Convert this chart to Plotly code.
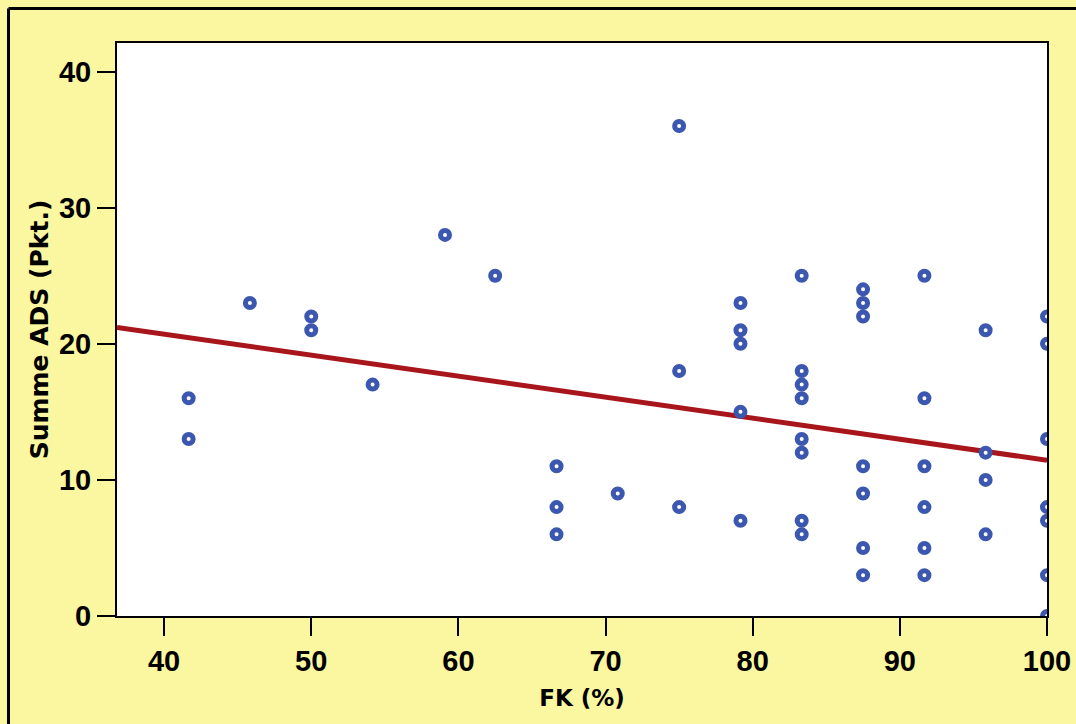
import numpy as np
import plotly.graph_objects as go

fk = [41.67, 41.67, 45.83, 50, 50, 54.17, 59.09, 62.5,
      66.67, 66.67, 66.67, 70.83, 75, 75, 75,
      79.17, 79.17, 79.17, 79.17, 79.17,
      83.33, 83.33, 83.33, 83.33, 83.33, 83.33, 83.33, 83.33,
      87.5, 87.5, 87.5, 87.5, 87.5, 87.5, 87.5,
      91.67, 91.67, 91.67, 91.67, 91.67, 91.67,
      95.83, 95.83, 95.83, 95.83,
      100, 100, 100, 100, 100, 100, 100]
ads = [16, 13, 23, 22, 21, 17, 28, 25,
       11, 8, 6, 9, 36, 18, 8,
       23, 21, 20, 15, 7,
       25, 18, 17, 16, 13, 12, 7, 6,
       24, 23, 22, 11, 9, 5, 3,
       25, 16, 11, 8, 5, 3,
       21, 12, 10, 6,
       22, 20, 13, 8, 7, 3, 0]

x_ticks = [40, 50, 60, 70, 80, 90, 100]
y_ticks = [0, 10, 20, 30, 40]
x_range = [36.8, 100]
y_range = [0, 42.1]

slope, intercept = np.polyfit(fk, ads, 1)
line_x = np.array(x_range)
line_y = intercept + slope * line_x

BG = "#FAF7A0"
tick_font = dict(family="Liberation Sans, Arial, sans-serif", color="black", size=29, weight="bold")
title_font = dict(family="DejaVu Sans, Verdana, sans-serif", color="black", weight="bold")

fig = go.Figure()
fig.add_trace(go.Scatter(x=line_x, y=line_y, mode="lines",
                         line=dict(color="#A8151B", width=5),
                         hoverinfo="skip", showlegend=False, cliponaxis=True))
fig.add_trace(go.Scatter(x=fk, y=ads, mode="markers",
                         marker=dict(symbol="circle", size=9, color="white",
                                     line=dict(color="#3B57AF", width=5)),
                         showlegend=False, cliponaxis=True))

axis_common = dict(showgrid=False, zeroline=False, showline=True, linecolor="black",
                   linewidth=2, mirror=True, ticks="outside", ticklen=18, tickwidth=2,
                   tickcolor="black", automargin=False, tickfont=tick_font)
fig.update_xaxes(range=x_range, tickvals=x_ticks, ticktext=[str(v) for v in x_ticks],
                 title=dict(text="FK (%)", font=dict(size=23, **title_font), standoff=14),
                 **axis_common)
fig.update_yaxes(range=y_range, tickvals=y_ticks, ticktext=[str(v) for v in y_ticks],
                 title=dict(text="Summe ADS (Pkt.)", font=dict(size=25, **title_font), standoff=3),
                 **axis_common)

# outer frame (top and left edges visible in the reference)
fx = (8.5 - 117) / 930
fy = (616 - 8.5) / 573
fig.add_shape(type="line", xref="paper", yref="paper", x0=fx, x1=1.2, y0=fy, y1=fy,
              line=dict(color="black", width=3))
fig.add_shape(type="line", xref="paper", yref="paper", x0=fx, x1=fx, y0=fy, y1=-0.3,
              line=dict(color="black", width=3))

fig.update_layout(width=1076, height=724, paper_bgcolor=BG, plot_bgcolor="white",
                  margin=dict(l=117, r=29, t=43, b=108), template="none")
fig.write_html("out.html")
